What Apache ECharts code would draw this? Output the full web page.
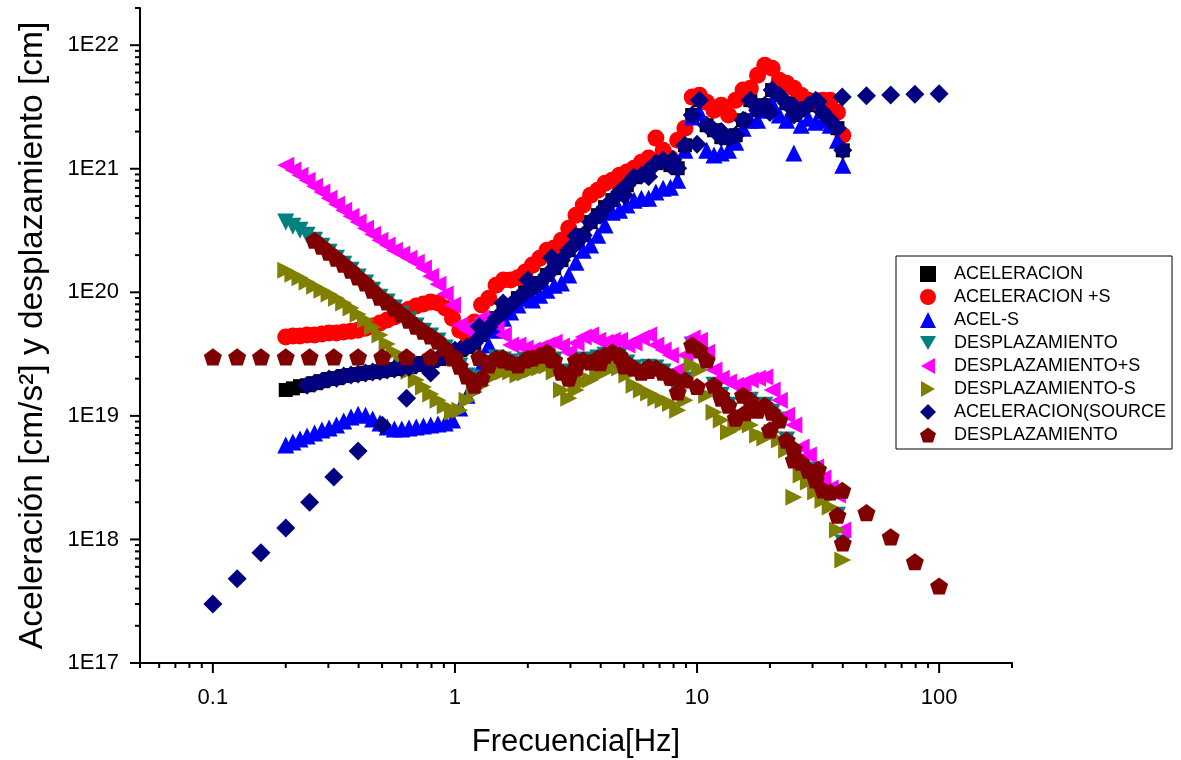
<!DOCTYPE html>
<html><head><meta charset="utf-8">
<script src="https://cdn.jsdelivr.net/npm/echarts@6/dist/echarts.min.js"></script>
<style>html,body{margin:0;padding:0;background:#fff}#c{width:1181px;height:760px}</style>
</head><body><div id="c"></div>
<script>
// ---------------- DATA ----------------
const freq = [0.200,0.214,0.229,0.245,0.263,0.282,0.302,0.324,0.347,0.372,0.398,0.427,0.457,0.490,0.525,0.562,0.603,0.646,0.692,0.741,0.794,0.851,0.912,0.977,1.047,1.122,1.202,1.288,1.380,1.479,1.585,1.698,1.820,1.950,2.089,2.239,2.399,2.570,2.754,2.951,3.162,3.388,3.631,3.890,4.169,4.467,4.786,5.129,5.495,5.888,6.310,6.761,7.244,7.762,8.318,8.913,9.550,10.23,10.96,11.75,12.59,13.49,14.45,15.49,16.60,17.78,19.05,20.42,21.88,23.44,25.12,26.92,28.84,30.90,33.11,35.48,38.02,40.0];

const aceleracion = [1.62e19,1.67e19,1.74e19,1.77e19,1.84e19,1.91e19,1.99e19,2.02e19,2.10e19,2.14e19,
2.18e19,2.22e19,2.26e19,2.30e19,2.35e19,2.39e19,2.44e19,2.48e19,2.58e19,2.68e19,
2.78e19,2.89e19,2.99e19,3.23e19,3.41e19,3.61e19,3.88e19,4.51e19,5.22e19,6.18e19,
6.91e19,7.88e19,8.97e19,1.00e20,1.08e20,1.19e20,1.38e20,1.57e20,1.82e20,2.19e20,
2.50e20,2.90e20,3.70e20,4.21e20,4.89e20,5.57e20,6.47e20,7.36e20,8.55e20,8.88e20,
9.75e20,1.11e21,1.17e21,1.07e21,1.01e21,1.55e21,2.72e21,3.59e21,2.25e21,2.05e21,
1.80e21,1.77e21,1.87e21,2.47e21,3.59e21,2.98e21,3.27e21,4.33e21,3.94e21,3.39e21,
2.72e21,2.98e21,3.27e21,3.59e21,2.87e21,2.47e21,2.13e21,1.41e21];

const aceleracionMasS = [4.35e19,4.43e19,4.43e19,4.51e19,4.51e19,4.59e19,4.68e19,4.68e19,4.77e19,4.85e19,
4.94e19,5.13e19,5.33e19,5.64e19,5.96e19,6.30e19,6.92e19,7.31e19,7.74e19,8.03e19,
8.34e19,8.18e19,7.45e19,6.18e19,4.94e19,4.51e19,5.74e19,7.88e19,8.97e19,1.14e20,
1.26e20,1.26e20,1.31e20,1.46e20,1.66e20,1.89e20,2.19e20,2.28e20,2.64e20,3.30e20,
4.21e20,5.08e20,6.11e20,6.71e20,7.64e20,8.09e20,8.88e20,9.40e20,1.01e21,1.13e21,
1.22e21,1.77e21,1.41e21,1.22e21,1.70e21,2.13e21,3.80e21,3.94e21,3.46e21,2.98e21,
3.27e21,2.72e21,3.59e21,4.33e21,4.49e21,5.72e21,6.89e21,6.50e21,5.21e21,4.92e21,
4.49e21,3.94e21,3.59e21,3.46e21,3.59e21,3.59e21,2.87e21,1.87e21];

const acelMenosS = [5.81e18,6.14e18,6.49e18,6.87e18,7.26e18,7.68e18,7.97e18,8.43e18,9.08e18,9.78e18,
1.03e19,1.01e19,9.42e18,8.75e18,8.12e18,7.83e18,7.83e18,7.97e18,8.12e18,8.28e18,
8.43e18,8.59e18,8.75e18,9.25e18,1.16e19,1.47e19,1.95e19,2.58e19,3.74e19,4.94e19,
6.18e19,6.92e19,7.88e19,8.97e19,8.65e19,9.49e19,1.04e20,1.14e20,1.19e20,1.38e20,
1.75e20,2.19e20,2.41e20,2.90e20,3.50e20,4.45e20,4.62e20,5.08e20,5.57e20,5.78e20,
5.78e20,6.47e20,6.96e20,7.09e20,8.09e20,1.41e21,2.62e21,2.87e21,1.41e21,1.29e21,
1.34e21,1.41e21,1.64e21,2.13e21,2.47e21,2.47e21,2.98e21,3.39e21,2.72e21,2.47e21,
1.34e21,2.25e21,2.56e21,2.38e21,2.47e21,2.25e21,1.70e21,1.07e21];

const desplazamiento = [3.70e20,3.43e20,3.18e20,2.90e20,2.64e20,2.36e20,2.11e20,1.89e20,1.69e20,1.51e20,
1.33e20,1.19e20,1.04e20,9.14e19,8.34e19,7.45e19,6.66e19,5.96e19,5.33e19,4.85e19,
4.43e19,4.03e19,3.54e19,2.94e19,2.53e19,2.10e19,1.77e19,2.02e19,2.58e19,2.94e19,
2.83e19,2.73e19,2.58e19,2.83e19,2.94e19,3.10e19,3.28e19,2.83e19,2.26e19,2.02e19,
2.44e19,2.83e19,2.73e19,2.94e19,3.10e19,3.28e19,3.10e19,2.68e19,2.44e19,2.26e19,
2.48e19,2.44e19,2.26e19,2.06e19,1.56e19,1.95e19,3.74e19,3.41e19,2.83e19,1.77e19,
1.47e19,1.22e19,9.59e18,1.47e19,1.34e19,1.11e19,1.22e19,1.07e19,9.25e18,6.37e18,
4.39e18,4.22e18,3.64e18,3.03e18,2.51e18,2.42e18,1.57e18,9.35e17];

const desplazamientoMasS = [1.07e21,9.75e20,8.88e20,8.09e20,7.22e20,6.47e20,5.78e20,5.17e20,4.62e20,4.13e20,
3.70e20,3.30e20,2.95e20,2.64e20,2.41e20,2.19e20,2.04e20,1.89e20,1.75e20,1.57e20,
1.35e20,1.16e20,9.67e19,7.88e19,5.43e19,4.94e19,5.43e19,6.18e19,6.18e19,5.43e19,
4.51e19,3.74e19,3.74e19,3.54e19,3.41e19,3.54e19,3.74e19,3.95e19,3.67e19,3.28e19,
3.88e19,4.35e19,4.51e19,4.10e19,3.95e19,4.10e19,4.10e19,3.74e19,3.88e19,4.26e19,
4.51e19,3.74e19,3.41e19,3.10e19,2.35e19,3.10e19,4.26e19,4.10e19,3.28e19,2.35e19,
2.02e19,1.88e19,1.77e19,1.84e19,1.95e19,2.02e19,2.06e19,1.62e19,1.34e19,1.01e19,
8.43e18,5.59e18,4.82e18,3.85e18,3.14e18,2.61e18,2.29e18,1.19e18];

const desplazamientoMenosS = [1.51e20,1.40e20,1.31e20,1.21e20,1.12e20,1.04e20,9.67e19,8.97e19,8.18e19,7.45e19,
6.66e19,5.96e19,5.23e19,4.51e19,3.81e19,3.28e19,2.73e19,2.30e19,1.95e19,1.71e19,
1.50e19,1.34e19,1.20e19,1.07e19,1.11e19,1.34e19,1.56e19,1.77e19,2.02e19,2.14e19,
2.26e19,2.26e19,2.14e19,2.22e19,2.35e19,2.44e19,2.53e19,2.26e19,1.62e19,1.39e19,
1.62e19,1.88e19,1.95e19,2.14e19,2.26e19,2.44e19,2.44e19,2.14e19,1.77e19,1.62e19,
1.53e19,1.39e19,1.34e19,1.26e19,1.11e19,1.34e19,2.58e19,2.35e19,1.47e19,1.07e19,
9.25e18,7.40e18,7.97e18,9.25e18,8.43e18,7.00e18,6.61e18,7.40e18,6.37e18,5.29e18,
2.20e18,3.32e18,2.92e18,2.42e18,2.08e18,1.83e18,1.19e18,6.81e17];

// source-model points (0.1 .. 100 Hz)
const freqSource = [0.1,0.126,0.158,0.2,0.251,0.316,0.398,0.501,0.631,0.794,1,1.26,1.58,2,2.51,3.16,3.98,5.01,6.31,7.94,10,12.6,15.8,20,25.1,31.6,39.8,50.1,63.1,79.4,100];
const acelSource = [3.0e17,4.8e17,7.8e17,1.24e18,2.0e18,3.2e18,5.2e18,8.4e18,1.39e19,2.22e19,3.4e19,5.3e19,8.2e19,1.26e20,1.9e20,2.85e20,4.2e20,6.1e20,8.6e20,1.18e21,1.58e21,2.0e21,2.45e21,2.85e21,3.2e21,3.5e21,3.8e21,3.9e21,3.95e21,4.0e21,4.05e21];
const despSource = [3.0e19,3.0e19,3.0e19,3.0e19,3.0e19,3.0e19,3.0e19,3.0e19,3.0e19,3.0e19,2.98e19,2.97e19,2.95e19,2.92e19,2.87e19,2.8e19,2.69e19,2.54e19,2.33e19,2.05e19,1.73e19,1.39e19,1.06e19,7.7e18,5.4e18,3.7e18,2.5e18,1.65e18,1.05e18,6.6e17,4.2e17];

// axes ticks / labels
const xMajorTicks = [0.1, 1, 10, 100];
const xTickLabels = ['0.1', '1', '10', '100'];
const xMinorTicks = [0.05,0.06,0.07,0.08,0.09,0.2,0.3,0.4,0.5,0.6,0.7,0.8,0.9,2,3,4,5,6,7,8,9,20,30,40,50,60,70,80,90,200];
const yMajorTicks = [1e17, 1e18, 1e19, 1e20, 1e21, 1e22];
const yTickLabels = ['1E17', '1E18', '1E19', '1E20', '1E21', '1E22'];
const yMinorTicks = [2e17,3e17,4e17,5e17,6e17,7e17,8e17,9e17,2e18,3e18,4e18,5e18,6e18,7e18,8e18,9e18,2e19,3e19,4e19,5e19,6e19,7e19,8e19,9e19,2e20,3e20,4e20,5e20,6e20,7e20,8e20,9e20,2e21,3e21,4e21,5e21,6e21,7e21,8e21,9e21,2e22];

const seriesNames = ['ACELERACION','ACELERACION +S','ACEL-S','DESPLAZAMIENTO','DESPLAZAMIENTO+S','DESPLAZAMIENTO-S','ACELERACION(SOURCE','DESPLAZAMIENTO '];

// ---------------- CHART ----------------
const X_MIN = 0.05, X_MAX = 200, Y_MIN = 1e17, Y_MAX = 2e22;
const FONT = "'Liberation Sans', Arial, Helvetica, sans-serif";
const PENTAGON = 'path://M50,0 L97.55,34.55 L79.39,90.45 L20.61,90.45 L2.45,34.55 Z';
const TRI_DOWN = 'path://M0,0 L16,0 L8,14 Z';
const TRI_LEFT = 'path://M0,8 L14,0 L14,16 Z';
const TRI_RIGHT = 'path://M0,0 L14,8 L0,16 Z';

function pairs(fs, vs, start) {
  const out = [];
  for (let i = start || 0; i < fs.length; i++) out.push([fs[i], vs[i]]);
  return out;
}
function labelFor(v, majors, labels) {
  for (let i = 0; i < majors.length; i++) {
    if (Math.abs(Math.log10(v) - Math.log10(majors[i])) < 1e-6) return labels[i];
  }
  return '';
}
function scat(name, data, color, symbol, size, rot, z) {
  return {
    type: 'scatter', name: name, data: data, symbol: symbol, symbolSize: size,
    symbolRotate: rot || 0, symbolKeepAspect: true, z: z,
    itemStyle: { color: color, opacity: 1 }, emphasis: { disabled: true }, silent: true
  };
}
function tickSeries(values, isX, len) {
  return {
    type: 'custom', name: isX ? '_xt' + len : '_yt' + len, coordinateSystem: 'cartesian2d',
    clip: false, silent: true, z: 20,
    data: values.map(v => isX ? [v, Y_MIN] : [X_MIN, v]),
    renderItem: function (params, api) {
      const p = api.coord([api.value(0), api.value(1)]);
      const shape = isX ? { x1: p[0], y1: p[1], x2: p[0], y2: p[1] + len }
                        : { x1: p[0], y1: p[1], x2: p[0] - len, y2: p[1] };
      return { type: 'line', shape: shape, style: { stroke: '#000', lineWidth: 2 } };
    }
  };
}

const legendIcons = [null, null, null, TRI_DOWN, TRI_LEFT, TRI_RIGHT, null, null];
const legendData = seriesNames.map((n, i) => legendIcons[i] ? { name: n, icon: legendIcons[i] } : { name: n });

const chart = echarts.init(document.getElementById('c'), null, { renderer: 'canvas' });
chart.setOption({
  animation: false,
  backgroundColor: '#fff',
  textStyle: { fontFamily: FONT },
  grid: { left: 140, right: 169, top: 8, bottom: 97, containLabel: false, outerBoundsMode: 'none' },
  legend: {
    data: legendData,
    orient: 'vertical', left: 896, top: 256,
    padding: [9, 6, 5, 24], itemGap: 5, itemWidth: 16, itemHeight: 16,
    borderColor: '#000', borderWidth: 1, backgroundColor: '#fff',
    selectedMode: false,
    textStyle: { fontFamily: FONT, fontSize: 18, lineHeight: 18, color: '#000', padding: [0, 0, 0, 13] }
  },
  xAxis: {
    type: 'log', logBase: 10, min: X_MIN, max: X_MAX,
    axisLine: { show: true, lineStyle: { color: '#000', width: 2 } },
    axisTick: { show: false },
    splitLine: { show: false }, minorTick: { show: false },
    axisLabel: {
      fontFamily: FONT, fontSize: 22, color: '#000', margin: 24,
      showMinLabel: true, showMaxLabel: true,
      formatter: v => labelFor(v, xMajorTicks, xTickLabels)
    },
    name: 'Frecuencia[Hz]', nameLocation: 'middle', nameGap: 64,
    nameTextStyle: { fontFamily: FONT, fontSize: 31, color: '#000' }
  },
  yAxis: {
    type: 'log', logBase: 10, min: Y_MIN, max: Y_MAX,
    axisLine: { show: true, lineStyle: { color: '#000', width: 2 } },
    axisTick: { show: false },
    splitLine: { show: false }, minorTick: { show: false },
    axisLabel: {
      fontFamily: FONT, fontSize: 22, color: '#000', margin: 21,
      formatter: v => labelFor(v, yMajorTicks, yTickLabels)
    },
    name: 'Aceleración [cm/s²] y desplazamiento [cm]', nameLocation: 'middle', nameGap: 90,
    nameTextStyle: { fontFamily: FONT, fontSize: 33.5, color: '#000' }
  },
  series: [
    scat(seriesNames[0], pairs(freq, aceleracion), '#000000', 'rect', 14, 0, 2),
    scat(seriesNames[1], pairs(freq, aceleracionMasS), '#FF0000', 'circle', 17, 0, 3),
    scat(seriesNames[2], pairs(freq, acelMenosS), '#0000FF', 'triangle', 17, 0, 4),
    scat(seriesNames[3], pairs(freq, desplazamiento), '#008080', 'triangle', 17, 180, 5),
    scat(seriesNames[4], pairs(freq, desplazamientoMasS), '#FF00FF', 'triangle', 17, 90, 6),
    scat(seriesNames[5], pairs(freq, desplazamientoMenosS), '#808000', 'triangle', 17, -90, 7),
    scat(seriesNames[6], pairs(freqSource, acelSource).concat(pairs(freq, aceleracion, 3)), '#000080', 'diamond', 19, 0, 8),
    scat(seriesNames[7], pairs(freqSource, despSource).concat(pairs(freq, desplazamiento, 4)), '#800000', PENTAGON, 18, 0, 9),
    tickSeries(xMajorTicks, true, 10),
    tickSeries(xMinorTicks, true, 5),
    tickSeries(yMajorTicks, false, 10),
    tickSeries(yMinorTicks, false, 5)
  ]
});
</script></body></html>
